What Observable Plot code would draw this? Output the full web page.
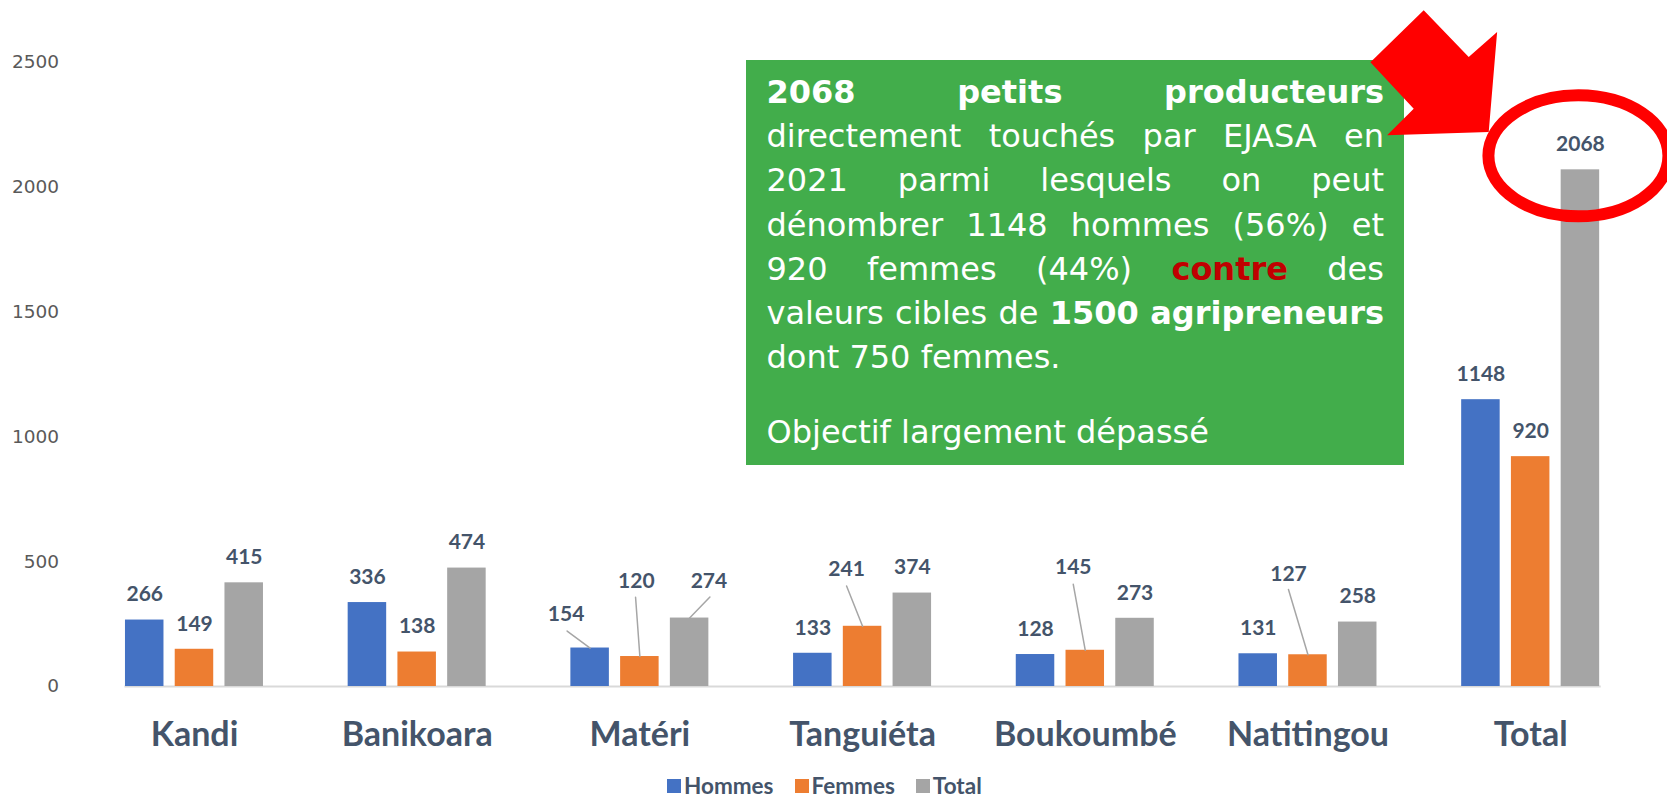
<!DOCTYPE html>
<html>
<head>
<meta charset="utf-8">
<script src="https://cdn.jsdelivr.net/npm/d3@7"></script>
<script src="https://cdn.jsdelivr.net/npm/@observablehq/plot@0.6"></script>
<style>
html, body { margin: 0; padding: 0; background: #fff; }
#wrap { position: relative; width: 1667px; height: 799px; overflow: hidden; background: #fff; }
#chart { position: absolute; left: 0; top: 0; z-index: 1; }
#note { position: absolute; left: 746px; top: 60px; width: 658px; height: 405px; background: #42ad4b; z-index: 0;
  box-sizing: border-box; padding: 10px 20px 0 20.5px; font-family: "DejaVu Sans"; font-size: 32px; line-height: 44.2px; color: #fff; }
.jl { display: flex; justify-content: space-between; white-space: nowrap; }
.b { font-weight: bold; }
.red { color: #c00000; font-weight: bold; }
#legend { position: absolute; left: 667px; top: 774px; height: 24px; line-height: 24px; display: flex; align-items: center; gap: 21px;
  font-family: Lato; font-weight: bold; font-size: 22.5px; color: #44546a; z-index: 2; }
#legend .it { display: flex; align-items: center; }
#legend .sw { display: inline-block; width: 14px; height: 14px; margin-right: 3px; }
</style>
</head>
<body>
<div id="wrap">
  <div id="note">
    <div class="jl"><span class="b">2068 </span><span class="b">petits </span><span class="b">producteurs</span></div>
    <div class="jl"><span>directement </span><span>touchés </span><span>par </span><span>EJASA </span><span>en</span></div>
    <div class="jl"><span>2021 </span><span>parmi </span><span>lesquels </span><span>on </span><span>peut</span></div>
    <div class="jl"><span>dénombrer </span><span>1148 </span><span>hommes </span><span>(56%) </span><span>et</span></div>
    <div class="jl"><span>920 </span><span>femmes </span><span>(44%) </span><span class="red">contre </span><span>des</span></div>
    <div class="jl"><span>valeurs </span><span>cibles </span><span>de </span><span class="b">1500 </span><span class="b">agripreneurs</span></div>
    <div>dont 750 femmes.</div>
    <div style="height:30.3px"></div>
    <div>Objectif largement dépassé</div>
  </div>
  <div id="chart"></div>
  <div id="legend"></div>
</div>
<script>
// ---- data ----
const groups = ["Kandi", "Banikoara", "Matéri", "Tanguiéta", "Boukoumbé", "Natitingou", "Total"];
const seriesNames = ["Hommes", "Femmes", "Total"];
const hommes = [266, 336, 154, 133, 128, 131, 1148];
const femmes = [149, 138, 120, 241, 145, 127, 920];
const totals = [415, 474, 274, 374, 273, 258, 2068];
const yTicks = [0, 500, 1000, 1500, 2000, 2500];
const colors = ["#4472c4", "#ed7d31", "#a5a5a5"];

const valuesBySeries = [hommes, femmes, totals];
const data = groups.flatMap((g, i) => seriesNames.map((s, j) => ({group: g, series: s, value: valuesBySeries[j][i]})));
const key = d => d.group + "|" + d.series;

// label nudges (styling, px relative to bar top centre): [labelDx, labelDy, leaderEndDx, leaderEndDy]
const nudges = {
  "Matéri|Hommes": [-24, -34, -23, -17],
  "Matéri|Femmes": [-3.5, -75.5, -4.3, -59.3],
  "Matéri|Total": [19.3, -37, 20.3, -21],
  "Tanguiéta|Femmes": [-16, -57, -16, -40.3],
  "Boukoumbé|Femmes": [-12, -83.3, -12, -66],
  "Natitingou|Femmes": [-19.5, -81, -19.5, -65.3]
};

const lineShape = { draw(ctx, l) { ctx.moveTo(0, 0); ctx.lineTo(0, -l); } };
const ellipseSymbol = { draw(ctx) {
  const rx = 90, ry = 60.5, k = 0.5523;
  ctx.moveTo(rx, 0);
  ctx.bezierCurveTo(rx, ry * k, rx * k, ry, 0, ry);
  ctx.bezierCurveTo(-rx * k, ry, -rx, ry * k, -rx, 0);
  ctx.bezierCurveTo(-rx, -ry * k, -rx * k, -ry, 0, -ry);
  ctx.bezierCurveTo(rx * k, -ry, rx, -ry * k, rx, 0);
  ctx.closePath();
}};
const arrowSymbol = { draw(ctx) {
  const pts = [[-208, -93.5], [-154.7, -145.5], [-109.7, -98.8], [-81.3, -123.8], [-89.7, -23.8], [-191.3, -20.5], [-164.7, -47.2]];
  pts.forEach(([x, y], i) => i ? ctx.lineTo(x, y) : ctx.moveTo(x, y));
  ctx.closePath();
}};

const textOpts = {fx: "group", x: "series", y: "value", text: d => String(d.value),
  fontFamily: "Lato", fontWeight: "bold", fontSize: 21, fill: "#44546a"};
const highlight = data.filter(d => d.group === "Total" && d.series === "Total");

const marks = [
  Plot.frame({facet: "super", anchor: "bottom", stroke: "#d9d9d9", strokeWidth: 2}),
  Plot.barY(data, {fx: "group", x: "series", y: "value", fill: "series"}),
  Plot.text(data.filter(d => !nudges[key(d)]), {...textOpts, dy: -25.5}),
  ...Object.entries(nudges).flatMap(([k, [lx, ly, ex, ey]]) => {
    const row = data.filter(d => key(d) === k);
    return [
      Plot.vector(row, {fx: "group", x: "series", y: "value", anchor: "start",
        length: Math.hypot(ex, ey), rotate: Math.atan2(ex, -ey) * 180 / Math.PI,
        shape: lineShape, stroke: "#a6a6a6", strokeWidth: 1.5}),
      Plot.text(row, {...textOpts, dx: lx, dy: ly})
    ];
  }),
  Plot.dot(highlight, {fx: "group", x: "series", y: "value", dx: -2, dy: -14, r: 10,
    symbol: ellipseSymbol, fill: "none", stroke: "#ff0000", strokeWidth: 12}),
  Plot.dot(highlight, {fx: "group", x: "series", y: "value", dx: -2, dy: -14, r: 10,
    symbol: arrowSymbol, fill: "#ff0000", stroke: "none"}),
  Plot.axisY({ticks: yTicks, tickSize: 0, tickPadding: 66.5, tickFormat: String, label: null,
    fontFamily: "DejaVu Sans", fontSize: 18.5, color: "#595959"}),
  Plot.axisFx({anchor: "bottom", tickSize: 0, tickPadding: 35.5, label: null,
    fontFamily: "Lato", fontWeight: "bold", fontSize: 34, color: "#44546a"})
];

const chart = Plot.plot({
  width: 1667, height: 768,
  marginTop: 61.4, marginBottom: 82, marginLeft: 74, marginRight: 7,
  style: {background: "transparent", overflow: "visible"},
  fx: {domain: groups, paddingInner: 0.38034, paddingOuter: 0.25101, align: 0.4559, round: false},
  x: {domain: seriesNames, paddingInner: 0.226, paddingOuter: 0, round: false, axis: null},
  y: {domain: [0, 2500]},
  color: {domain: seriesNames, range: colors},
  marks
});
document.getElementById("chart").appendChild(chart);

const legend = document.getElementById("legend");
seriesNames.forEach((s, i) => {
  const it = document.createElement("div");
  it.className = "it";
  const sw = document.createElement("span");
  sw.className = "sw";
  sw.style.background = colors[i];
  it.appendChild(sw);
  it.appendChild(document.createTextNode(s));
  legend.appendChild(it);
});
</script>
</body>
</html>
